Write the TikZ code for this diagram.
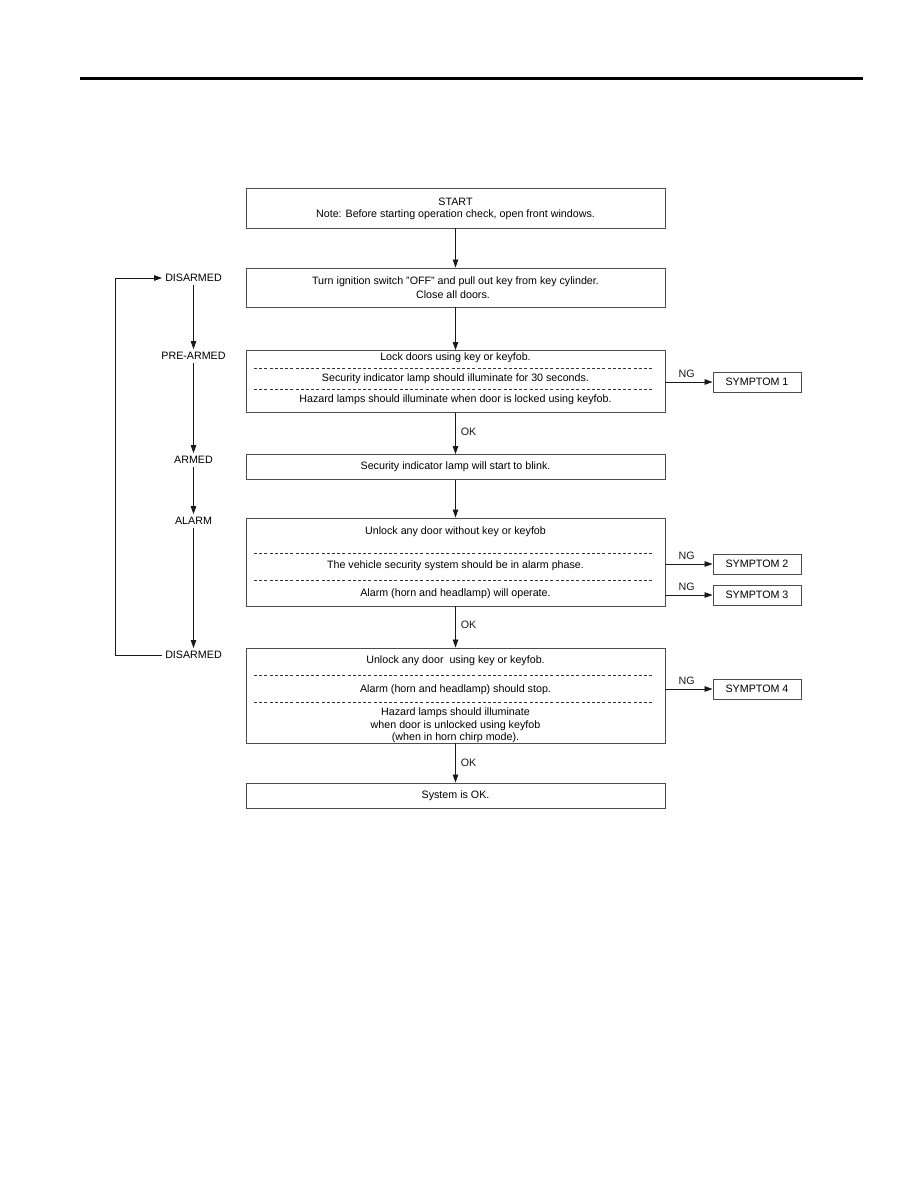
\documentclass[tikz,border=0pt]{standalone}
\usepackage{fontspec}
\setmainfont{Liberation Sans}
\usetikzlibrary{arrows.meta}
\begin{document}
\begin{tikzpicture}[x=1pt,y=-1pt,
  box/.style={draw=black!70,line width=0.9pt,minimum width=419pt,inner sep=0pt},
  sbox/.style={draw=black!70,line width=0.9pt,minimum width=88pt,minimum height=20pt,inner sep=0pt,font=\fontsize{10.7}{12}\selectfont},
  lab/.style={inner sep=0pt,font=\fontsize{10.7}{12}\selectfont},
  state/.style={inner sep=3pt,font=\fontsize{10.7}{12}\selectfont},
  arr/.style={-{Triangle[length=8pt,width=5.5pt]},line width=0.8pt,black!90},
  sepline/.style={dash pattern=on 3pt off 2.2pt,line width=0.5pt,black!80},
  tag/.style={inner sep=1pt,font=\fontsize{10.7}{12}\selectfont}]
\useasboundingbox (0,0) rectangle (918,1188);
\draw[line width=3pt] (80,79) -- (863,79);

% main boxes
\node[box,minimum height=40pt] (start) at (455.5,208) {};
\node[lab] (t1a) at (455.5,202) {START};
\node[lab] (t1b) at (455.5,215) {Note: Before starting operation check, open front windows.};

\node[box,minimum height=39pt] (ign) at (455.5,287.5) {};
\node[lab] (t2a) at (455.5,282) {Turn ignition switch "OFF" and pull out key from key cylinder.};
\node[lab] (t2b) at (453,295) {Close all doors.};

\node[box,minimum height=62pt] (lock) at (455.5,381.5) {};
\node[lab] (t3a) at (455.5,358) {Lock doors using key or keyfob.};
\node[lab] (t3b) at (455.5,379) {Security indicator lamp should illuminate for 30 seconds.};
\node[lab] (t3c) at (455.5,400) {Hazard lamps should illuminate when door is locked using keyfob.};
\draw[sepline] (254,368.5) -- (652,368.5);
\draw[sepline] (254,389) -- (652,389);

\node[box,minimum height=25pt] (armed) at (455.5,467) {};
\node[lab] (t4) at (455.5,467) {Security indicator lamp will start to blink.};

\node[box,minimum height=88pt] (alarm) at (455.5,562) {};
\node[lab] (t5a) at (455.5,532) {Unlock any door without key or keyfob};
\node[lab] (t5b) at (455.5,566) {The vehicle security system should be in alarm phase.};
\node[lab] (t5c) at (455.5,594) {Alarm (horn and headlamp) will operate.};
\draw[sepline] (254,553) -- (652,553);
\draw[sepline] (254,580) -- (652,580);

\node[box,minimum height=95pt] (unlock) at (455.5,695.5) {};
\node[lab] (t6a) at (455.5,661) {Unlock any door\ \ using key or keyfob.};
\node[lab] (t6b) at (455.5,690) {Alarm (horn and headlamp) should stop.};
\node[lab] (t6c) at (455.5,713) {Hazard lamps should illuminate};
\node[lab] (t6d) at (455.5,725.5) {when door is unlocked using keyfob};
\node[lab] (t6e) at (455.5,737.5) {(when in horn chirp mode).};
\draw[sepline] (254,675) -- (652,675);
\draw[sepline] (254,702) -- (652,702);

\node[box,minimum height=25pt] (ok) at (455.5,795.5) {};
\node[lab] (t7) at (455.5,795.5) {System is OK.};

% symptom boxes
\node[sbox] (s1) at (757,382) {SYMPTOM 1};
\node[sbox] (s2) at (757,564) {SYMPTOM 2};
\node[sbox] (s3) at (757,595) {SYMPTOM 3};
\node[sbox] (s4) at (757,689) {SYMPTOM 4};

% main flow
\draw[arr] (start) -- (ign);
\draw[arr] (ign) -- (lock);
\draw[arr] (lock) -- node[tag,right=4pt,pos=0.45] (ok1) {OK} (armed);
\draw[arr] (armed) -- (alarm);
\draw[arr] (alarm) -- node[tag,right=4pt,pos=0.45] (ok2) {OK} (unlock);
\draw[arr] (unlock) -- node[tag,right=4pt,pos=0.5] (ok3) {OK} (ok);

% NG branches
\draw[arr] (lock.east |- s1) -- node[tag,above=3pt,pos=0.45] (ng1) {NG} (s1.west);
\draw[arr] (alarm.east |- s2) -- node[tag,above=3pt,pos=0.45] (ng2) {NG} (s2.west);
\draw[arr] (alarm.east |- s3) -- node[tag,above=3pt,pos=0.45] (ng3) {NG} (s3.west);
\draw[arr] (unlock.east |- s4) -- node[tag,above=3pt,pos=0.45] (ng4) {NG} (s4.west);

% state column
\node[state] (d1) at (193.5,278) {DISARMED};
\node[state] (pre) at (193.5,356) {PRE-ARMED};
\node[state] (arm) at (193.5,460) {ARMED};
\node[state] (alm) at (193.5,521) {ALARM};
\node[state] (d2) at (193.5,655) {DISARMED};
\draw[arr] (d1) -- (pre);
\draw[arr] (pre) -- (arm);
\draw[arr] (arm) -- (alm);
\draw[arr] (alm) -- (d2);
\draw[arr] (d2.west) -- (115.5,655) |- (d1.west);
\end{tikzpicture}
\end{document}
